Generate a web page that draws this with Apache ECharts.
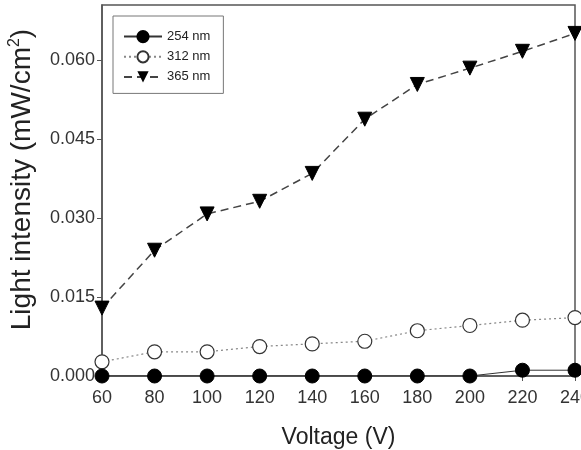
<!DOCTYPE html>
<html>
<head>
<meta charset="utf-8">
<script src="https://cdn.jsdelivr.net/npm/echarts@6/dist/echarts.min.js"></script>
<style>
  html, body { margin: 0; padding: 0; background: #fff; }
  #chart { width: 581px; height: 450px; }
</style>
</head>
<body>
<div id="chart"></div>
<script>
var voltage = [60, 80, 100, 120, 140, 160, 180, 200, 220, 240];
var nm254 = [0, 0, 0, 0, 0, 0, 0, 0, 0.0011, 0.0011];
var nm312 = [0.0027, 0.0046, 0.0046, 0.0056, 0.0061, 0.0066, 0.0086, 0.0096, 0.0106, 0.0111];
var nm365 = [0.0129, 0.0239, 0.0308, 0.0332, 0.0385, 0.0488, 0.0554, 0.0585, 0.0617, 0.0651];

function pairs(ys) {
  return voltage.map(function (x, i) { return [x, ys[i]]; });
}

var chart = echarts.init(document.getElementById('chart'));
chart.setOption({
  animation: false,
  textStyle: { fontFamily: 'Liberation Sans, Arial, sans-serif' },
  grid: {
    left: 102, right: 6, top: 5, bottom: 74,
    outerBoundsMode: 'none',
    show: true, borderColor: '#555', borderWidth: 1.5
  },
  legend: {
    left: 113, top: 16,
    orient: 'vertical',
    backgroundColor: '#fff',
    borderColor: '#777',
    borderWidth: 1,
    padding: [14, 13, 10, 10],
    itemGap: 7,
    itemWidth: 38,
    itemHeight: 14,
    textStyle: { fontSize: 13, color: '#222' },
    data: ['254 nm', '312 nm', '365 nm']
  },
  xAxis: {
    type: 'value',
    min: 60, max: 240, interval: 20,
    name: 'Voltage (V)',
    nameLocation: 'middle',
    nameGap: 50,
    nameTextStyle: { fontSize: 23, color: '#222' },
    axisLine: { lineStyle: { color: '#555', width: 1.5 } },
    axisTick: { inside: false, length: 5, lineStyle: { color: '#555' } },
    axisLabel: { fontSize: 18, color: '#333', margin: 13 },
    splitLine: { show: false }
  },
  yAxis: {
    type: 'value',
    min: 0, max: 0.0705, interval: 0.015,
    name: 'Light intensity (mW/cm{sup|2})',
    nameLocation: 'middle',
    nameGap: 65,
    nameTextStyle: {
      fontSize: 28, color: '#222',
      padding: [0, 0, 0, 22],
      rich: { sup: { fontSize: 16, color: '#222', verticalAlign: 'top', lineHeight: 30 } }
    },
    axisLine: { lineStyle: { color: '#555', width: 1.5 } },
    axisTick: { inside: false, length: 5, lineStyle: { color: '#555' } },
    axisLabel: {
      fontSize: 18, color: '#333', margin: 7, showMaxLabel: false,
      formatter: function (v) { return v.toFixed(3); }
    },
    splitLine: { show: false }
  },
  series: [
    {
      name: '254 nm', type: 'line', data: pairs(nm254),
      symbol: 'circle', symbolSize: 14,
      lineStyle: { color: '#333', width: 1 },
      itemStyle: { color: '#000', borderColor: '#000', borderWidth: 1 },
      z: 3
    },
    {
      name: '312 nm', type: 'line', data: pairs(nm312),
      symbol: 'circle', symbolSize: 14,
      lineStyle: { color: '#888', width: 1.2, type: [2, 3] },
      itemStyle: { color: '#fff', borderColor: '#333', borderWidth: 1.2 },
      z: 2
    },
    {
      name: '365 nm', type: 'line', data: pairs(nm365),
      symbol: 'triangle', symbolRotate: 180, symbolSize: 14,
      lineStyle: { color: '#444', width: 1.5, type: [8, 5] },
      itemStyle: { color: '#000', borderColor: '#000' },
      z: 2
    }
  ]
});
</script>
</body>
</html>
